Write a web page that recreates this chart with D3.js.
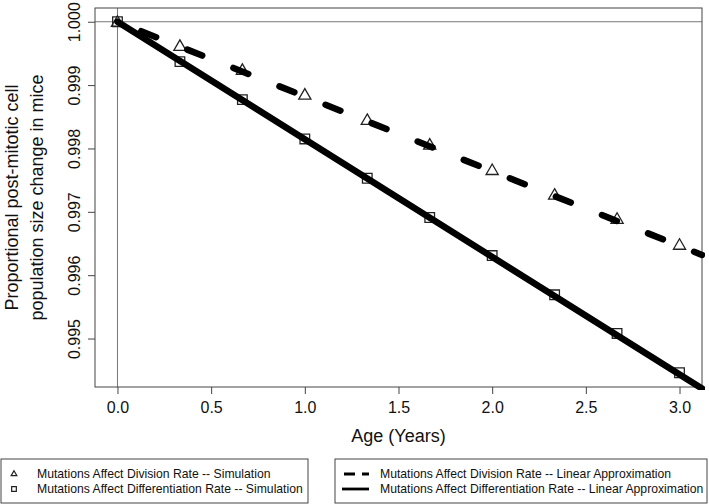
<!DOCTYPE html>
<html>
<head>
<meta charset="utf-8" />
<title>Post-mitotic cell population</title>
<script src="https://cdn.jsdelivr.net/npm/d3@7"></script>
<style>
body { margin: 0; background: #fff; }
svg { font-family: "Liberation Sans", Arial, Helvetica, sans-serif; }
</style>
</head>
<body>
<svg id="chart"></svg>
<script>

/* data */
var ages = [0, 1/3, 2/3, 1, 4/3, 5/3, 2, 7/3, 8/3, 3];
var divisionSim = [1.0, 0.99962, 0.99924, 0.99885, 0.99845, 0.99806, 0.99766, 0.99727, 0.99689, 0.99648];
var differentiationSim = [1.0, 0.99937, 0.99877, 0.99815, 0.99753, 0.99691, 0.99631, 0.99569, 0.99508, 0.99446];
// linear approximations, end points
var approxAges = [0, 3.12];
var divisionApprox = [1.0, 0.99632];
var differentiationApprox = [1.0, 0.99421];

var xTicks = [0, 0.5, 1, 1.5, 2, 2.5, 3];
var yTicks = [0.995, 0.996, 0.997, 0.998, 0.999, 1.000];

var legendLeft = ["Mutations Affect Division Rate -- Simulation",
	"Mutations Affect Differentiation Rate -- Simulation"];
var legendRight = ["Mutations Affect Division Rate -- Linear Approximation",
	"Mutations Affect Differentiation Rate -- Linear Approximation"];

var w = 709, h = 504;
var box = {left: 95, right: 702, top: 8, bottom: 387};

var svg = d3.select("#chart").attr("width", w).attr("height", h);

var x = d3.scaleLinear().domain([-0.12, 3.12]).range([box.left, box.right]);
var y = d3.scaleLinear().domain([0.994235, 1.000217]).range([box.bottom, box.top]);

svg.append("clipPath").attr("id", "plotclip")
	.append("rect")
	.attr("x", box.left).attr("y", box.top)
	.attr("width", box.right - box.left + 3).attr("height", box.bottom - box.top + 3);

/* reference lines at age 0 and 1.000 */
svg.append("line")
	.attr("x1", x(0)).attr("x2", x(0))
	.attr("y1", box.top).attr("y2", box.bottom)
	.attr("stroke", "#777").attr("stroke-width", 1);
svg.append("line")
	.attr("x1", box.left).attr("x2", box.right)
	.attr("y1", y(1)).attr("y2", y(1))
	.attr("stroke", "#777").attr("stroke-width", 1);

/* axes */
var xAxis = svg.append("g")
	.attr("transform", "translate(0," + box.bottom + ")")
	.call(d3.axisBottom(x).tickValues(xTicks).tickSize(7).tickPadding(4)
		.tickFormat(d3.format(".1f")));
xAxis.select(".domain").remove();
xAxis.selectAll("line").attr("stroke", "#444");
xAxis.selectAll("text").attr("font-size", 16).attr("fill", "#111")
	.attr("dy", null).attr("y", 26);

var yAxis = svg.append("g")
	.attr("transform", "translate(" + box.left + ",0)")
	.call(d3.axisLeft(y).tickValues(yTicks).tickSize(7)
		.tickFormat(d3.format(".3f")));
yAxis.select(".domain").remove();
yAxis.selectAll("line").attr("stroke", "#444");
yAxis.selectAll("text")
	.attr("font-size", 16).attr("fill", "#111")
	.attr("x", null).attr("dy", null)
	.attr("text-anchor", "middle")
	.attr("transform", "translate(-15,0) rotate(-90)");

svg.append("rect")
	.attr("x", box.left).attr("y", box.top)
	.attr("width", box.right - box.left).attr("height", box.bottom - box.top)
	.attr("fill", "none").attr("stroke", "#444").attr("stroke-width", 1);

/* axis titles */
svg.append("text")
	.attr("x", (box.left + box.right) / 2).attr("y", 442)
	.attr("text-anchor", "middle").attr("font-size", 18).attr("fill", "#111")
	.text("Age (Years)");

var ylab = svg.append("text")
	.attr("transform", "translate(18," + (box.top + box.bottom) / 2 + ") rotate(-90)")
	.attr("text-anchor", "middle").attr("font-size", 18).attr("fill", "#111");
ylab.append("tspan").attr("x", 0).attr("y", 0).text("Proportional post-mitotic cell");
ylab.append("tspan").attr("x", 0).attr("y", 25).text("population size change in mice");

/* simulation points (drawn before the lines, which run over them) */
var plot = svg.append("g").attr("clip-path", "url(#plotclip)");
var tri = d3.symbol().type(d3.symbolTriangle).size(64);
var sq = d3.symbol().type(d3.symbolSquare).size(92);

plot.selectAll(".tri")
	.data(ages.map(function(a, i) { return [a, divisionSim[i]]; }))
	.enter().append("path")
	.attr("class", "tri")
	.attr("d", tri)
	.attr("transform", function(d) { return "translate(" + x(d[0]) + "," + (y(d[1]) + 1) + ")"; })
	.attr("fill", "#fff").attr("stroke", "#222").attr("stroke-width", 1.3);

plot.selectAll(".sq")
	.data(ages.map(function(a, i) { return [a, differentiationSim[i]]; }))
	.enter().append("path")
	.attr("class", "sq")
	.attr("d", sq)
	.attr("transform", function(d) { return "translate(" + x(d[0]) + "," + y(d[1]) + ")"; })
	.attr("fill", "none").attr("stroke", "#222").attr("stroke-width", 1.3);

/* linear approximations */
var line = d3.line().x(function(d) { return x(d[0]); }).y(function(d) { return y(d[1]); });

plot.append("path")
	.datum(approxAges.map(function(a, i) { return [a, differentiationApprox[i]]; }))
	.attr("d", line)
	.attr("fill", "none").attr("stroke", "#000")
	.attr("stroke-width", 6.5).attr("stroke-linecap", "round");

plot.append("path")
	.datum(approxAges.map(function(a, i) { return [a, divisionApprox[i]]; }))
	.attr("d", line)
	.attr("fill", "none").attr("stroke", "#000")
	.attr("stroke-width", 6.5).attr("stroke-linecap", "round")
	.attr("stroke-dasharray", "16 33.6").attr("stroke-dashoffset", 24);

/* legends */
var lgFont = 12.2;
var lg1 = svg.append("g");
lg1.append("rect").attr("x", 1).attr("y", 459).attr("width", 307).attr("height", 44)
	.attr("fill", "none").attr("stroke", "#444").attr("stroke-width", 1);
lg1.selectAll("text").data(legendLeft).enter().append("text")
	.attr("x", 37).attr("y", function(d, i) { return 478 + i * 15; })
	.attr("font-size", lgFont).attr("fill", "#111")
	.text(function(d) { return d; });
lg1.append("path").attr("d", d3.symbol().type(d3.symbolTriangle).size(14))
	.attr("transform", "translate(14,474)")
	.attr("fill", "none").attr("stroke", "#222").attr("stroke-width", 1.2);
lg1.append("path").attr("d", d3.symbol().type(d3.symbolSquare).size(22))
	.attr("transform", "translate(14,489)")
	.attr("fill", "none").attr("stroke", "#222").attr("stroke-width", 1.2);

var lg2 = svg.append("g");
lg2.append("rect").attr("x", 335).attr("y", 459).attr("width", 372).attr("height", 44)
	.attr("fill", "none").attr("stroke", "#444").attr("stroke-width", 1);
lg2.selectAll("text").data(legendRight).enter().append("text")
	.attr("x", 380).attr("y", function(d, i) { return 478 + i * 15; })
	.attr("font-size", lgFont).attr("fill", "#111")
	.text(function(d) { return d; });
lg2.append("line").attr("x1", 344).attr("x2", 369).attr("y1", 474).attr("y2", 474)
	.attr("stroke", "#000").attr("stroke-width", 2.8).attr("stroke-dasharray", "11 7");
lg2.append("line").attr("x1", 342).attr("x2", 369).attr("y1", 489).attr("y2", 489)
	.attr("stroke", "#000").attr("stroke-width", 2.8);

</script>
</body>
</html>
